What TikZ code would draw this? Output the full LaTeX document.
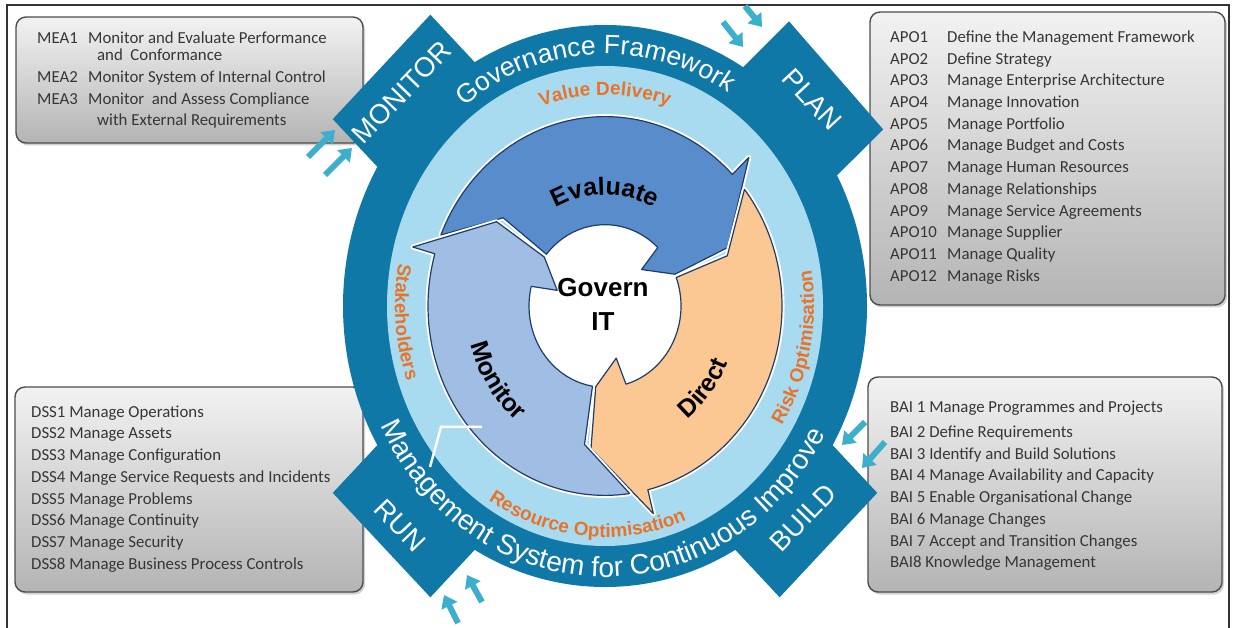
\documentclass[tikz,border=0pt]{standalone}
\usepackage{fontspec}
\setmainfont{Liberation Sans}
\newfontfamily\boxfont{Carlito}
\usetikzlibrary{decorations.text,arrows.meta,shadows,calc}
\definecolor{ringdark}{HTML}{1078A6}
\definecolor{ringlight}{HTML}{A8DAF0}
\definecolor{orangetxt}{HTML}{E8742A}
\definecolor{evalfill}{HTML}{588CCB}
\definecolor{monfill}{HTML}{A0BEE4}
\definecolor{dirfill}{HTML}{FBC894}
\definecolor{arrowline}{HTML}{1F3D6B}
\definecolor{cyanarrow}{HTML}{3CAFCD}
\definecolor{boxtext}{HTML}{363636}
\definecolor{boxborder}{HTML}{4D4D4D}
\definecolor{boxtop}{HTML}{F2F2F2}
\definecolor{boxbot}{HTML}{B4B4B4}
\definecolor{framecol}{HTML}{333333}
\newcommand\ringtxt{\fontsize{26.5}{30}\selectfont\color{white}}
\newcommand\ringtxtb{\fontsize{28}{32}\selectfont\color{white}}
\newcommand\orgtxt{\fontsize{19}{22}\selectfont\bfseries\color{orangetxt}}
\newcommand\arrtxt{\fontsize{25}{28}\selectfont\bfseries\color{black}}
% #1 own barb angle, #2 previous arrow barb angle, #3 fill
\newcommand\cycarrow[3]{%
  \path[fill=#3, draw=arrowline, line width=1.2pt, line join=round,
        preaction={draw=white, line width=5pt, line join=round}]
    ({#2-6}:177) arc[start angle={#2-6}, end angle={#1}, radius=177]
    -- ({#1}:200) -- ({#1-20}:134) -- ({#1-21}:76) -- ({#1-1}:50) -- ({#1+2}:76)
    arc[start angle={#1+2}, end angle={#2-23.5}, radius=76]
    -- ({#2-23}:131) -- cycle;}
\begin{document}
\begin{tikzpicture}[x=1pt,y=1pt,
  graybox/.style={draw=boxborder, line width=1.4pt, rounded corners=10pt,
    top color=boxtop, bottom color=boxbot,
    drop shadow={shadow xshift=2pt, shadow yshift=-2.5pt, opacity=0.35},
    inner sep=0pt, outer sep=0pt},
  rowtext/.style={font=\boxfont\fontsize{16.8}{20}\selectfont, text=boxtext, inner sep=0pt, anchor=base west},
  tablabel/.style={font=\fontsize{27.5}{30}\selectfont, text=white, inner sep=0pt},
  cyanarr/.style={draw=cyanarrow, line width=6pt, -{Triangle[width=17pt,length=12pt]}},
  arctext/.style={decorate, decoration={text along path, text align=center, text={#1}}},
]
\useasboundingbox (0,0) rectangle (1234,627);
\fill[white] (0,0) rectangle (1234,627);
\draw[framecol, line width=1.3pt] (7,-1) -- (7,622) -- (1229,622) -- (1229,-1);

% ---- grey boxes
\node[graybox, minimum width=347pt, minimum height=126pt] (meabox) at (189.5,547) {};
\node[graybox, minimum width=355pt, minimum height=293pt] (apobox) at (1047.5,468.5) {};
\node[graybox, minimum width=348pt, minimum height=205pt] (dssbox) at (189,137.5) {};
\node[graybox, minimum width=354pt, minimum height=215pt] (baibox) at (1045,142.5) {};

% MEA
\node[rowtext] (mea1c) at (37,583.5) {MEA1};
\node[rowtext] (mea1d) at (88,583.5) {Monitor and Evaluate Performance};
\node[rowtext] (mea1e) at (97,566.5) {and\ \ Conformance};
\node[rowtext] (mea2c) at (37,544.5) {MEA2};
\node[rowtext] (mea2d) at (88,544.5) {Monitor System of Internal Control};
\node[rowtext] (mea3c) at (37,522.5) {MEA3};
\node[rowtext] (mea3d) at (88,522.5) {Monitor\ \ and Assess Compliance};
\node[rowtext] (mea3e) at (97,501.5) {with External Requirements};

% APO
\foreach \code/\desc [count=\i from 0] in {APO1/Define the Management Framework,
  APO2/Define Strategy, APO3/Manage Enterprise Architecture, APO4/Manage Innovation,
  APO5/Manage Portfolio, APO6/Manage Budget and Costs, APO7/Manage Human Resources,
  APO8/Manage Relationships, APO9/Manage Service Agreements, APO10/Manage Supplier,
  APO11/Manage Quality, APO12/Manage Risks}{
  \node[rowtext] (apoc\i) at (890,584.5-21.7*\i) {\code};
  \node[rowtext] (apod\i) at (947,584.5-21.7*\i) {\desc};
}

% DSS
\foreach \t [count=\i from 0] in {DSS1 Manage Operations, DSS2 Manage Assets,
  DSS3 Manage Configuration, DSS4 Mange Service Requests and Incidents,
  DSS5 Manage Problems, DSS6 Manage Continuity, DSS7 Manage Security,
  DSS8 Manage Business Process Controls}{
  \node[rowtext] (dss\i) at (31,209.8-21.7*\i) {\t};
}

% BAI
\foreach \t/\yy [count=\i from 0] in {BAI 1 Manage Programmes and Projects/214.5,
  BAI 2 Define Requirements/189.5, BAI 3 Identify and Build Solutions/167.8,
  BAI 4 Manage Availability and Capacity/146.1, BAI 5 Enable Organisational Change/124.4,
  BAI 6 Manage Changes/102.7, BAI 7 Accept and Transition Changes/81,
  BAI8 Knowledge Management/59.3}{
  \node[rowtext] (bai\i) at (890,\yy) {\t};
}

% ---- central wheel
\coordinate (c) at (605,321);
\begin{scope}[shift={(c)}, yscale=1.07]
  \foreach \a in {135,43,225,315} \fill[ringdark, rotate=\a] (200,-69) rectangle (316,69);
\end{scope}
\fill[ringdark] (c) ellipse [x radius=262, y radius=281];
\fill[ringlight] (c) ellipse [x radius=218, y radius=240];
\fill[white] (c) ellipse [x radius=77, y radius=80];

\begin{scope}[shift={(c)}, yscale=1.07]
  \cycarrow{44}{164}{evalfill}
  \cycarrow{-76}{44}{dirfill}
  \cycarrow{-196}{-76}{monfill}
  \node[tablabel, rotate=46] (monlab) at (135.5:285) {MONITOR};
  \node[tablabel, rotate=-47] (planlab) at (43:283) {PLAN};
  \node[tablabel, rotate=-46] (runlab) at (225:290) {RUN};
  \node[tablabel, rotate=46] (buildlab) at (315:280) {BUILD};
\end{scope}

\begin{scope}[shift={(c)}]
  \path[arctext={|\ringtxt|Governance Framework}]
    (182.5:230.5 and 252) arc[start angle=182.5, end angle=2.5, x radius=230.5, y radius=252];
  \path[arctext={|\ringtxtb|Management System for Continuous Improve}]
    (169:250 and 271) arc[start angle=169, end angle=369, x radius=250, y radius=271];
  \path[arctext={|\orgtxt|Value Delivery}]
    (150:198 and 211) arc[start angle=150, end angle=30, x radius=198, y radius=211];
  \path[arctext={|\orgtxt|Stakeholders}]
    (124.5:210 and 225) arc[start angle=124.5, end angle=244.5, x radius=210, y radius=225];
  \path[arctext={|\orgtxt|Risk Optimisation}]
    (-72:209 and 224) arc[start angle=-72, end angle=48, x radius=209, y radius=224];
  \path[arctext={|\orgtxt|Resource Optimisation}]
    (-165:216 and 231) arc[start angle=-165, end angle=-25, x radius=216, y radius=231];
  \path[arctext={|\arrtxt|Evaluate}]
    (150:104 and 111) arc[start angle=150, end angle=30, x radius=104, y radius=111];
  \path[arctext={|\arrtxt|Monitor}]
    (154:139 and 149) arc[start angle=154, end angle=274, x radius=139, y radius=149];
  \path[arctext={|\arrtxt|Direct}]
    (-99:134 and 143) arc[start angle=-99, end angle=21, x radius=134, y radius=143];
\end{scope}

\node[font=\fontsize{26}{34}\selectfont\bfseries, align=center, inner sep=0pt] (gov) at (603,323) {Govern\\IT};

% white mark
\draw[white, line width=2.5pt] (482,200) -- (441,200) -- (430,160);

% ---- small cyan arrows
\coordinate (mon1a) at (308,470); \coordinate (mon1b) at (335,497);
\coordinate (mon2a) at (325,452); \coordinate (mon2b) at (352,479);
\coordinate (plan1a) at (723,605); \coordinate (plan1b) at (743,580);
\coordinate (plan2a) at (745,621); \coordinate (plan2b) at (762,600);
\coordinate (build1a) at (865,205); \coordinate (build1b) at (842,182);
\coordinate (build2a) at (885,185); \coordinate (build2b) at (862,159);
\coordinate (run1a) at (458,4); \coordinate (run1b) at (444,32);
\coordinate (run2a) at (482,25); \coordinate (run2b) at (467,52);
\foreach \p in {mon1,mon2,plan1,plan2,build1,build2,run1,run2}
  \draw[cyanarr] (\p a) -- (\p b);
\end{tikzpicture}
\end{document}
